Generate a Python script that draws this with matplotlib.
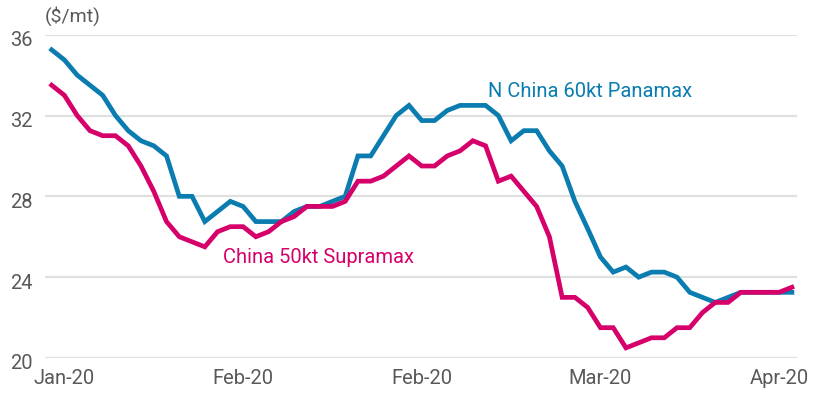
import matplotlib
matplotlib.use("Agg")
import matplotlib.pyplot as plt
import matplotlib.transforms as mtransforms
import numpy as np

plt.rcParams['font.family'] = ['Roboto', 'DejaVu Sans']

# weekly-ish freight rates, $/mt
panamax = [35.25, 34.75, 34.0, 33.5, 33.0, 32.0, 31.25, 30.75, 30.5, 30.0,
           28.0, 28.0, 26.75, 27.25, 27.75, 27.5, 26.75, 26.75, 26.75, 27.25,
           27.5, 27.5, 27.75, 28.0, 30.0, 30.0, 31.0, 32.0, 32.5, 31.75,
           31.75, 32.25, 32.5, 32.5, 32.5, 32.0, 30.75, 31.25, 31.25, 30.25,
           29.5, 27.75, 26.4, 25.0, 24.25, 24.5, 24.0, 24.25, 24.25, 24.0,
           23.25, 23.0, 22.75, 23.0, 23.25, 23.25, 23.25, 23.25, 23.25]
supramax = [33.5, 33.0, 32.0, 31.25, 31.0, 31.0, 30.5, 29.5, 28.25, 26.75,
            26.0, 25.75, 25.5, 26.25, 26.5, 26.5, 26.0, 26.25, 26.75, 27.0,
            27.5, 27.5, 27.5, 27.75, 28.75, 28.75, 29.0, 29.5, 30.0, 29.5,
            29.5, 30.0, 30.25, 30.75, 30.5, 28.75, 29.0, 28.25, 27.5, 26.0,
            23.0, 23.0, 22.5, 21.5, 21.5, 20.5, 20.75, 21.0, 21.0, 21.5,
            21.5, 22.25, 22.75, 22.75, 23.25, 23.25, 23.25, 23.25, 23.5]
tick_pos = [1, 15, 29, 43, 57]
tick_labels = ["Jan-20", "Feb-20", "Feb-20", "Mar-20", "Apr-20"]

blue = "#0a7cb0"
pink = "#d6006b"
grey = "#58595b"

fig = plt.figure(figsize=(8.17, 3.95), dpi=100)
ax = fig.add_axes([0.0551, 0.0937, 0.9204, 0.8185])

x = np.arange(len(panamax))
ax.plot(x, panamax, color=blue, lw=3.4, solid_joinstyle='miter', clip_on=False, zorder=3)
ax.plot(x, supramax, color=pink, lw=3.4, solid_joinstyle='miter', clip_on=False, zorder=4)

ax.set_xlim(-0.52, 58.4)
ax.set_ylim(20, 36)
ax.set_yticks([20, 24, 28, 32, 36])
ax.set_xticks(tick_pos)
ax.set_xticklabels(tick_labels)
ax.grid(axis='y', color="#dfe1e1", lw=1.6)
ax.set_axisbelow(True)
for s in ax.spines.values():
    s.set_visible(False)
ax.tick_params(length=0, labelsize=14.5, colors=grey, pad=8)
ax.tick_params(axis='y', pad=9)

# y labels sit a little below their gridlines
off = mtransforms.ScaledTranslation(0, -4 / 100, fig.dpi_scale_trans)
for lab in ax.get_yticklabels():
    lab.set_transform(lab.get_transform() + off)

fig.text(45 / 817, 1 - 16 / 395, "($/mt)", fontsize=14, color=grey, va='center', ha='left')

ax.text(34.2, 33.2, "N China 60kt Panamax", color=blue, fontsize=14.5, va='center', ha='left')
ax.text(13.4, 24.95, "China 50kt Supramax", color=pink, fontsize=14.5, va='center', ha='left')

fig.savefig("out.png", dpi=100, facecolor="white")
